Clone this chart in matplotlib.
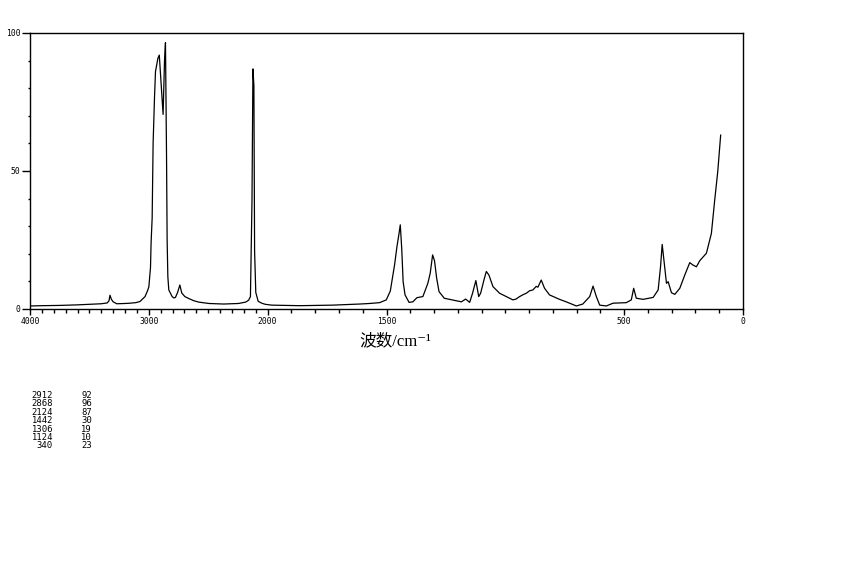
import numpy as np
import matplotlib
matplotlib.use("Agg")
import matplotlib.pyplot as plt
from matplotlib.ticker import FixedLocator, MultipleLocator

# ---- data (wavenumber, cm-1 ; relative intensity) ----
wavenumber = [4000, 3900, 3750, 3600, 3495, 3400, 3350, 3335, 3327, 3315, 3300, 3270,
              3200, 3160, 3110, 3075, 3032, 3012, 3000, 2986, 2981, 2972, 2964, 2952,
              2944, 2932, 2924, 2912, 2902, 2888, 2880, 2868, 2860, 2851, 2846, 2840,
              2832, 2804, 2790, 2776, 2758, 2739, 2723, 2697, 2664, 2622, 2580, 2495,
              2370, 2245, 2185, 2160, 2145, 2132, 2124, 2116, 2110, 2100, 2080, 2050,
              2020, 1983, 1865, 1727, 1613, 1571, 1529, 1501, 1484, 1466, 1456, 1447,
              1442, 1436, 1430, 1422, 1405, 1389, 1372, 1347, 1326, 1316, 1306, 1298,
              1289, 1279, 1257, 1206, 1185, 1167, 1150, 1138, 1124, 1112, 1104, 1090,
              1080, 1069, 1052, 1024, 996, 968, 955, 940, 925, 912, 898, 884, 870,
              863, 849, 835, 814,
              772, 744, 701, 674, 645, 631, 617, 603, 575, 547, 491, 470, 460, 449,
              420, 378, 357, 347, 340, 333, 322, 315, 301, 287, 266, 245, 224, 210,
              196, 182, 154, 133, 119, 106, 94]
intensity = [1.1, 1.2, 1.3, 1.5, 1.7, 1.9, 2.2, 3.0, 5.0, 3.5, 2.6, 1.9,
             2.0, 2.1, 2.3, 2.7, 4.5, 6.5, 8.0, 15, 24, 33, 60, 77,
             86, 89, 90.8, 92, 85.4, 75.7, 70.5, 90, 96.5, 55, 25, 11.7,
             6.9, 4.5, 4.0, 4.2, 6.0, 8.7, 5.8, 4.5, 3.8, 3.0, 2.5, 2.0,
             1.8, 2.0, 2.5, 3.2, 4.5, 39, 87, 81, 21, 6.0, 2.8, 2.1,
             1.7, 1.4, 1.2, 1.4, 1.8, 2.0, 2.3, 3.3, 6.5, 16, 22.6, 27.5,
             30.5, 22, 9.9, 5.1, 2.4, 2.6, 4.1, 4.5, 9.3, 13, 19.6, 17.5,
             11.2, 6.3, 3.9, 3.0, 2.6, 3.6, 2.4, 5.7, 10.3, 4.5, 5.7, 10.5,
             13.6, 12.3, 8.1, 5.7, 4.5, 3.3, 3.6, 4.5, 5.2, 5.7, 6.6, 6.9, 8.2,
             7.9, 10.5, 7.5, 5.1,
             3.5, 2.6, 1.1, 1.8, 4.5, 8.3, 4.5, 1.4, 1.1, 2.1, 2.3, 3.3, 7.5, 3.9,
             3.5, 4.2, 6.9, 15.3, 23.4, 17.8, 9.3, 9.9, 5.9, 5.3, 7.5, 12.3, 16.8, 15.9,
             15.3, 17.5, 20.2, 27.4, 39.5, 50, 63]

# peak table
peak_pos = [2912, 2868, 2124, 1442, 1306, 1124, 340]
peak_int = [92, 96, 87, 30, 19, 10, 23]

x_major = [4000, 3000, 2000, 1500, 500, 0]
x_major_labels = ["4000", "3000", "2000", "1500", "500", "0"]
y_major = [0, 50, 100]


def fwd(w):
    w = np.asarray(w, dtype=float)
    return np.where(w <= 2000, w, 2000 + (w - 2000) / 2.0)


def inv(u):
    u = np.asarray(u, dtype=float)
    return np.where(u <= 2000, u, 2000 + (u - 2000) * 2.0)


W, H = 850, 567
fig = plt.figure(figsize=(W / 100, H / 100), dpi=100)
fig.patch.set_facecolor("white")
ax = fig.add_axes([30 / W, 1 - 309 / H, (743 - 30) / W, (309 - 33) / H])
ax.set_xscale("function", functions=(fwd, inv))

ax.plot(wavenumber, intensity, color="black", lw=0.9)
ax.set_xlim(4000, 0)
ax.set_ylim(0, 100)

ax.xaxis.set_major_locator(FixedLocator(x_major))
ax.set_xticklabels(x_major_labels)
ax.xaxis.set_minor_locator(FixedLocator(list(range(0, 4001, 100))))
ax.yaxis.set_major_locator(FixedLocator(y_major))
ax.yaxis.set_minor_locator(MultipleLocator(10))

mono = "DejaVu Sans Mono"
ax.tick_params(axis="x", which="major", direction="out", length=4, width=1,
               pad=2, labelsize=5.8, labelfontfamily=mono)
ax.tick_params(axis="x", which="minor", direction="out", length=3, width=1)
ax.tick_params(axis="y", which="major", direction="out", length=6, width=1,
               pad=1, labelsize=5.8, labelfontfamily=mono)
ax.tick_params(axis="y", which="minor", direction="out", length=1.5, width=1)
for s in ax.spines.values():
    s.set_linewidth(1.0)

# axis title
fig.text(395 / W, 1 - 341 / H, "波数/cm⁻¹",
         family=["Liberation Serif", "Noto Sans CJK SC", "DejaVu Sans"],
         fontsize=12, ha="center", va="center")

# peak table under the plot
for i, (p, v) in enumerate(zip(peak_pos, peak_int)):
    yy = 1 - (395.5 + i * 8.4) / H
    fig.text(53 / W, yy, f"{p}", ha="right", va="center",
             family=mono, fontsize=6.4)
    fig.text(92 / W, yy, f"{v}", ha="right", va="center",
             family=mono, fontsize=6.4)

fig.savefig("out.png", dpi=100, facecolor="white")
